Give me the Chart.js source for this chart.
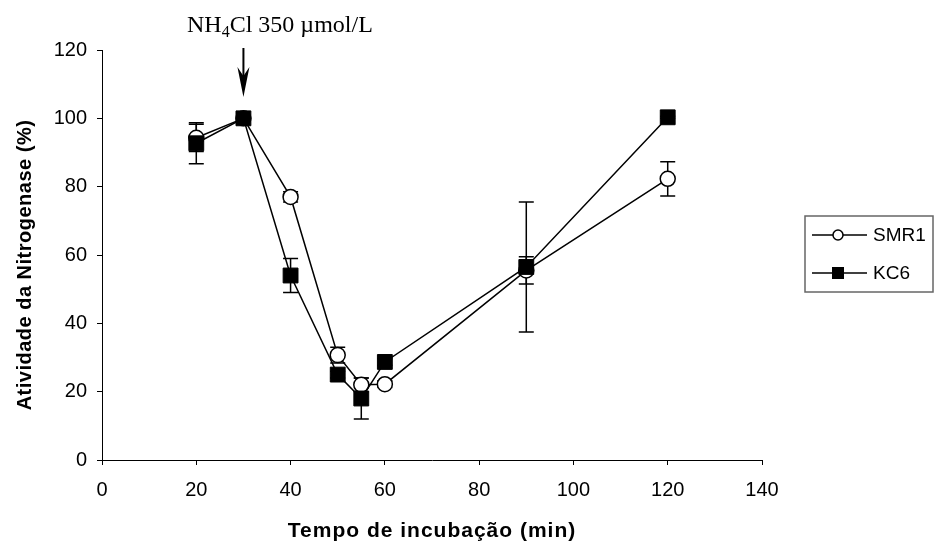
<!DOCTYPE html>
<html>
<head>
<meta charset="utf-8">
<script src="https://cdn.jsdelivr.net/npm/chart.js@4"></script>
<style>
  body { margin: 0; background: #fff; }
  #wrap { width: 935px; height: 549px; }
</style>
</head>
<body>
<div id="wrap"><canvas id="chart" width="935" height="549"></canvas></div>
<script>
const times = [20, 30, 40, 50, 55, 60, 90, 120];
const smr1 = [94.3, 100, 77, 30.7, 22, 22.2, 55.5, 82.3];
const smr1Err = [4, 0.3, 1.5, 2.3, 2, 1, 4, 5];
const kc6 = [92.7, 100, 54, 25, 18, 28.7, 56.5, 100.3];
const kc6Err = [6, 0.3, 5, 1, 6, 1, 19, 0.3];
const xTicks = [0, 20, 40, 60, 80, 100, 120, 140];
const yTicks = [0, 20, 40, 60, 80, 100, 120];
const doseTime = 30;
const xTitle = "Tempo de incubação (min)";
const yTitle = "Atividade da Nitrogenase (%)";

const toPoints = (ys) => times.map((t, i) => ({ x: t, y: ys[i] }));

// error bars drawn under the markers
const errorBars = {
  id: "errorBars",
  beforeDatasetsDraw(chart) {
    const { ctx, scales: { x, y } } = chart;
    ctx.save();
    ctx.strokeStyle = "#000";
    ctx.lineWidth = 1.5;
    chart.data.datasets.forEach((ds) => {
      ds.data.forEach((p, i) => {
        const e = ds.errors[i];
        const px = x.getPixelForValue(p.x);
        const top = y.getPixelForValue(p.y + e);
        const bot = y.getPixelForValue(p.y - e);
        ctx.beginPath();
        ctx.moveTo(px, top); ctx.lineTo(px, bot);
        ctx.moveTo(px - 7.5, top); ctx.lineTo(px + 7.5, top);
        ctx.moveTo(px - 7.5, bot); ctx.lineTo(px + 7.5, bot);
        ctx.stroke();
      });
    });
    ctx.restore();
  }
};

// axis titles, NH4Cl arrow + label, boxed legend
const extras = {
  id: "extras",
  afterDraw(chart) {
    const { ctx, chartArea, scales: { x } } = chart;
    ctx.save();
    ctx.fillStyle = "#000";
    ctx.strokeStyle = "#000";

    // axis titles
    ctx.textAlign = "center";
    ctx.textBaseline = "alphabetic";
    ctx.font = "bold 21px 'Liberation Sans'";
    ctx.letterSpacing = "1px";
    ctx.fillText(xTitle, (chartArea.left + chartArea.right) / 2, 537);
    ctx.save();
    ctx.translate(31, 265);
    ctx.rotate(-Math.PI / 2);
    ctx.font = "bold 20px 'Liberation Sans'";
    ctx.letterSpacing = "0.5px";
    ctx.fillText(yTitle, 0, 0);
    ctx.restore();
    ctx.letterSpacing = "0px";

    // arrow
    const ax = x.getPixelForValue(doseTime);
    ctx.lineWidth = 2;
    ctx.beginPath();
    ctx.moveTo(ax, 48); ctx.lineTo(ax, 80);
    ctx.stroke();
    ctx.beginPath();
    ctx.moveTo(ax - 6, 67); ctx.lineTo(ax, 97); ctx.lineTo(ax + 6, 67); ctx.lineTo(ax, 76);
    ctx.closePath();
    ctx.fill();

    // annotation text
    ctx.textAlign = "left";
    ctx.font = "24px 'Liberation Serif'";
    let tx = 187;
    const ty = 32;
    ctx.fillText("NH", tx, ty); tx += ctx.measureText("NH").width;
    ctx.font = "16px 'Liberation Serif'";
    ctx.fillText("4", tx, ty + 5); tx += ctx.measureText("4").width;
    ctx.font = "24px 'Liberation Serif'";
    ctx.fillText("Cl 350 \u00b5mol/L", tx, ty);

    // legend
    ctx.lineWidth = 1.5;
    ctx.strokeStyle = "#666";
    ctx.strokeRect(805, 216, 128, 76);
    ctx.strokeStyle = "#000";
    ctx.font = "19px 'Liberation Sans'";
    ctx.textBaseline = "middle";
    const rows = [[235, "SMR1", "circle"], [273, "KC6", "square"]];
    rows.forEach(([ly, label, shape]) => {
      ctx.lineWidth = 1.5;
      ctx.beginPath();
      ctx.moveTo(812, ly); ctx.lineTo(867, ly);
      ctx.stroke();
      if (shape === "circle") {
        ctx.beginPath();
        ctx.arc(838, ly, 5, 0, Math.PI * 2);
        ctx.fillStyle = "#fff"; ctx.fill(); ctx.stroke();
      } else {
        ctx.fillStyle = "#000";
        ctx.fillRect(832, ly - 6, 12, 12);
      }
      ctx.fillStyle = "#000";
      ctx.fillText(label, 873, ly + 1);
    });
    ctx.restore();
  }
};

new Chart(document.getElementById("chart"), {
  type: "line",
  data: {
    datasets: [
      {
        label: "SMR1", data: toPoints(smr1), errors: smr1Err, order: 1,
        borderColor: "#000", borderWidth: 1.5, backgroundColor: "#fff",
        pointStyle: "circle", pointRadius: 7.5, pointBorderWidth: 1.5,
        pointBackgroundColor: "#fff", pointBorderColor: "#000"
      },
      {
        label: "KC6", data: toPoints(kc6), errors: kc6Err, order: 0,
        borderColor: "#000", borderWidth: 1.5, backgroundColor: "#000",
        pointStyle: "rect", pointRadius: 10.5, pointBorderWidth: 1,
        pointBackgroundColor: "#000", pointBorderColor: "#000"
      }
    ]
  },
  options: {
    responsive: false,
    animation: false,
    layout: { padding: { top: 50, right: 173, left: 0, bottom: 0 } },
    plugins: { legend: { display: false }, tooltip: { enabled: false } },
    scales: {
      x: {
        type: "linear", min: 0, max: 140,
        afterBuildTicks: (s) => { s.ticks = xTicks.map((v) => ({ value: v })); },
        afterFit: (s) => { s.height = 89; },
        grid: { drawOnChartArea: false, tickLength: 5, color: "#000" },
        border: { color: "#000", width: 1 },
        ticks: { color: "#000", font: { family: "'Liberation Sans'", size: 20 }, padding: 13, maxRotation: 0 }
      },
      y: {
        min: 0, max: 120,
        afterBuildTicks: (s) => { s.ticks = yTicks.map((v) => ({ value: v })); },
        afterFit: (s) => { s.width = 102; },
        grid: { drawOnChartArea: false, tickLength: 5, color: "#000" },
        border: { color: "#000", width: 1 },
        ticks: { color: "#000", font: { family: "'Liberation Sans'", size: 20 }, padding: 10 }
      }
    }
  },
  plugins: [errorBars, extras]
});
</script>
</body>
</html>
